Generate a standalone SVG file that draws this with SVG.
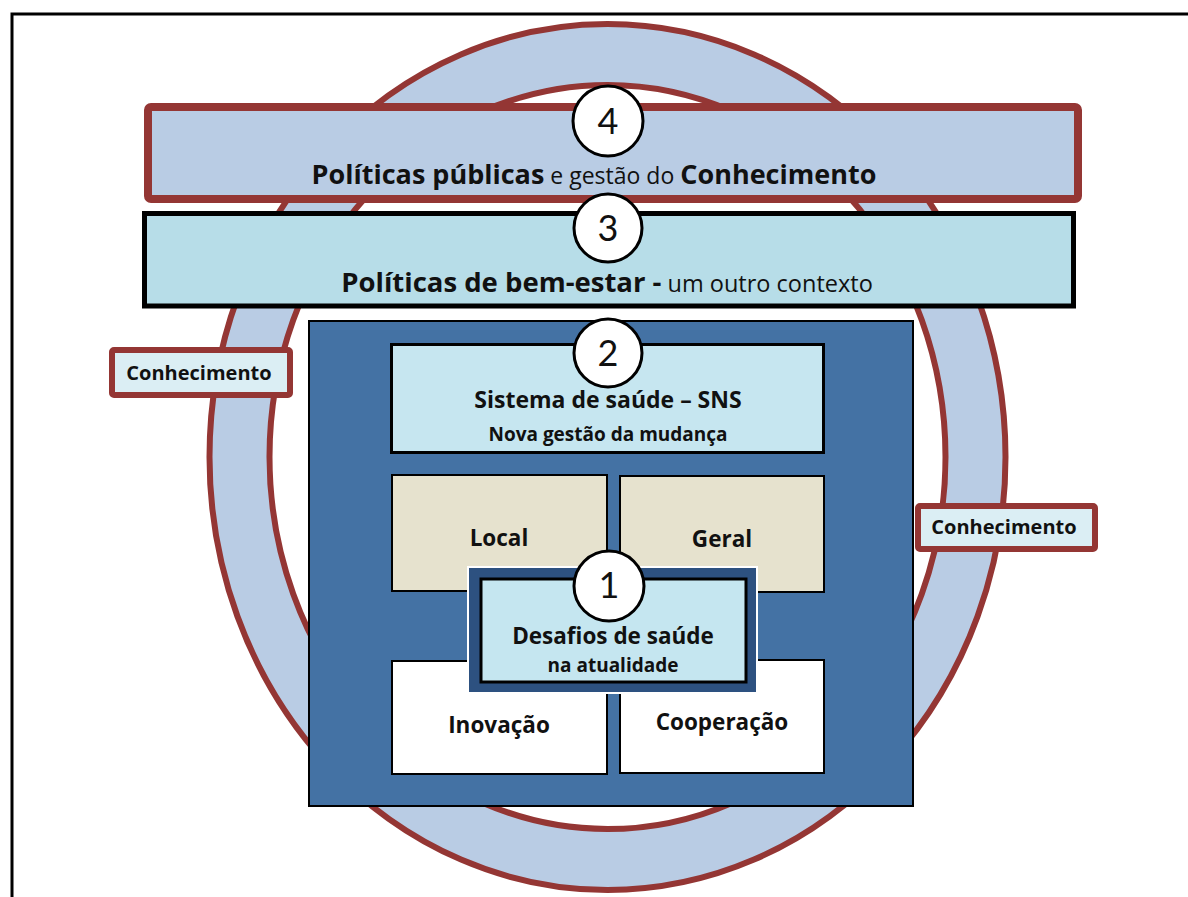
<svg xmlns="http://www.w3.org/2000/svg" width="1188" height="897" viewBox="0 0 1188 897">
<style>
text{font-family:"Open Sans",Lato,"Liberation Sans",sans-serif;fill:#111;text-anchor:middle}
.b{font-weight:bold}
.r{font-weight:normal}
.ring{fill:#b9cce4;stroke:#943634;stroke-width:6}
.num{fill:#fff;stroke:#000;stroke-width:3}
.digit{font-family:Lato,"Open Sans",sans-serif;font-size:36px;font-weight:normal}
</style>
<rect x="0" y="0" width="1188" height="897" fill="#fff"/>
<rect id="frame" x="12" y="14" width="1200" height="900" fill="none" stroke="#000" stroke-width="3"/>
<g id="ring">
<ellipse class="ring" cx="607.5" cy="457" rx="398" ry="433"/>
<ellipse cx="607.5" cy="457" rx="338" ry="372" fill="#fff" stroke="#943634" stroke-width="6"/>
</g>
<g id="box4">
<rect x="148" y="107" width="930" height="92" rx="3" fill="#b9cce4" stroke="#943634" stroke-width="8"/>
<text x="594" y="184" font-size="27"><tspan class="b">Políticas públicas</tspan><tspan class="r" font-size="23"> e gestão do </tspan><tspan class="b">Conhecimento</tspan></text>
</g>
<g id="box3">
<rect x="144.5" y="213.5" width="929" height="92.5" fill="#b7dde8" stroke="#000" stroke-width="5"/>
<text x="607" y="292" font-size="27.5"><tspan class="b">Políticas de bem-estar -</tspan><tspan class="r" font-size="23.5"> um outro contexto</tspan></text>
</g>
<g id="kn-left">
<rect x="112" y="350" width="178" height="45" rx="2" fill="#dbeef4" stroke="#943634" stroke-width="6"/>
<text x="199" y="380" font-size="20" class="b">Conhecimento</text>
</g>
<g id="kn-right">
<rect x="918" y="506" width="177" height="43" rx="2" fill="#dbeef4" stroke="#943634" stroke-width="6"/>
<text x="1004" y="534" font-size="20" class="b">Conhecimento</text>
</g>
<g id="box2">
<rect x="309" y="321" width="604" height="485" fill="#4472a4" stroke="#000" stroke-width="2"/>
<rect x="391.5" y="344.5" width="432" height="108" fill="#c6e6f0" stroke="#000" stroke-width="3"/>
<text x="608" y="408" font-size="23" class="b">Sistema de saúde – SNS</text>
<text x="608" y="441" font-size="19" class="b">Nova gestão da mudança</text>
</g>
<g id="local">
<rect x="392" y="475" width="215" height="116" fill="#e6e2ce" stroke="#000" stroke-width="2"/>
<text x="499" y="546" font-size="22.5" class="b">Local</text>
</g>
<g id="geral">
<rect x="620" y="476" width="204" height="116" fill="#e6e2ce" stroke="#000" stroke-width="2"/>
<text x="722" y="547" font-size="22.5" class="b">Geral</text>
</g>
<g id="inovacao">
<rect x="392" y="661" width="215" height="113" fill="#fff" stroke="#000" stroke-width="2"/>
<text x="499" y="733" font-size="22.5" class="b">Inovação</text>
</g>
<g id="cooperacao">
<rect x="620" y="660" width="204" height="113" fill="#fff" stroke="#000" stroke-width="2"/>
<text x="722" y="730" font-size="22.5" class="b">Cooperação</text>
</g>
<g id="box1">
<rect x="468" y="567" width="289" height="126" fill="#2d5180" stroke="#fff" stroke-width="2"/>
<rect x="481" y="579" width="265" height="103" fill="#c5e6f0" stroke="#000" stroke-width="3"/>
<text x="613" y="644" font-size="22.5" class="b">Desafios de saúde</text>
<text x="613" y="672" font-size="19" class="b">na atualidade</text>
</g>
<g id="n4"><circle class="num" cx="608" cy="121" r="35"/><text class="digit" x="608" y="134">4</text></g>
<g id="n3"><circle class="num" cx="608" cy="228" r="34"/><text class="digit" x="608" y="241">3</text></g>
<g id="n2"><circle class="num" cx="608" cy="353" r="34"/><text class="digit" x="608" y="366">2</text></g>
<g id="n1"><circle class="num" cx="609" cy="586" r="35"/><text class="digit" x="609" y="598">1</text></g>
<g id="connectors"/>
</svg>
